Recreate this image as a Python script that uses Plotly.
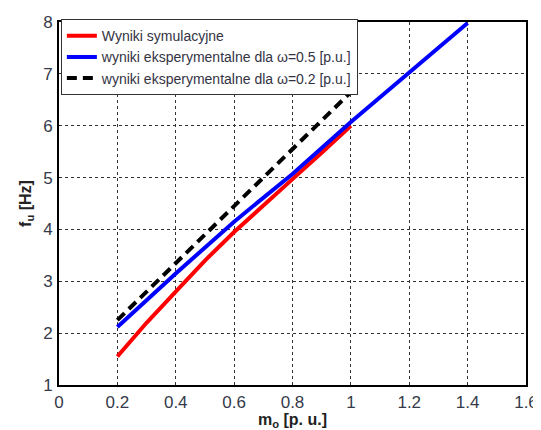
import plotly.graph_objects as go

# Data
x_sim = [0.2, 0.3, 0.4, 0.5, 0.6, 0.7, 0.8, 0.9, 1.0]
y_sim = [1.55, 2.2, 2.8, 3.4, 3.95, 4.45, 4.97, 5.48, 6.0]

x_exp05 = [0.2, 0.4, 0.6, 0.8, 1.0, 1.2, 1.4]
y_exp05 = [2.12, 3.15, 4.15, 5.07, 6.07, 7.02, 7.98]

x_exp02 = [0.2, 0.4, 0.6, 0.8, 1.0]
y_exp02 = [2.25, 3.35, 4.45, 5.55, 6.65]

x_ticks = [0, 0.2, 0.4, 0.6, 0.8, 1, 1.2, 1.4, 1.6]
x_ticklabels = ["0", "0.2", "0.4", "0.6", "0.8", "1", "1.2", "1.4", "1.6"]
y_ticks = [1, 2, 3, 4, 5, 6, 7, 8]

FONT = "Liberation Sans, Arial, sans-serif"
TICK_COLOR = "#353a4a"

fig = go.Figure()
fig.add_trace(go.Scatter(x=x_sim, y=y_sim, mode="lines", name="Wyniki symulacyjne",
                         line=dict(color="#ff0000", width=4)))
fig.add_trace(go.Scatter(x=x_exp05, y=y_exp05, mode="lines",
                         name="wyniki eksperymentalne dla \u03c9=0.5 [p.u.]",
                         line=dict(color="#0000ff", width=4)))
fig.add_trace(go.Scatter(x=x_exp02, y=y_exp02, mode="lines",
                         name="wyniki eksperymentalne dla \u03c9=0.2 [p.u.]",
                         line=dict(color="#000000", width=4, dash="10px,6px")))

axis_common = dict(
    showline=True, linecolor="#000000", linewidth=2, mirror=True,
    showgrid=True, gridcolor="#333333", griddash="dot", gridwidth=1,
    zeroline=False, ticks="", automargin=False,
    tickfont=dict(family=FONT, size=17, color=TICK_COLOR),
)

fig.update_layout(
    width=533, height=422,
    margin=dict(l=51, r=15, t=11, b=45),
    paper_bgcolor="white", plot_bgcolor="white",
    font=dict(family=FONT, color="#333333"),
    showlegend=True,
    legend=dict(x=0.004, y=1.008, xanchor="left", yanchor="top",
                bgcolor="white", bordercolor="#333333", borderwidth=1,
                font=dict(family=FONT, size=14, color="#333344"),
                tracegroupgap=0, itemwidth=30),
    xaxis=dict(range=[0, 1.6], tickvals=x_ticks, ticktext=x_ticklabels,
               ticklabelstandoff=1,
               title=dict(text="<b>m<sub>o</sub> [p. u.]</b>", standoff=9,
                          font=dict(family=FONT, size=16, color="#222222")),
               **axis_common),
    yaxis=dict(range=[1, 8], tickvals=y_ticks,
               ticklabelstandoff=1,
               title=dict(text="<b>f<sub>u</sub> [Hz]</b>", standoff=8,
                          font=dict(family=FONT, size=16, color="#222222")),
               **axis_common),
)

fig.write_html("out.html")
